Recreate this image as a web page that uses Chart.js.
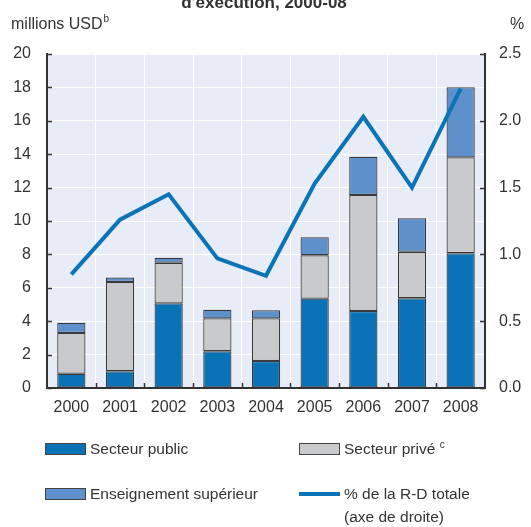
<!DOCTYPE html>
<html>
<head>
<meta charset="utf-8">
<script src="https://cdn.jsdelivr.net/npm/chart.js@4"></script>
<style>
  html, body { margin: 0; padding: 0; background: #fff; }
  #wrap { width: 531px; height: 527px; position: relative; }
</style>
</head>
<body>
<div id="wrap"><canvas id="rdChart" width="531" height="527"></canvas></div>
<script>
// Dépenses de R-D par secteur d'exécution (millions USD) et part dans la R-D totale (%)
const years = ['2000', '2001', '2002', '2003', '2004', '2005', '2006', '2007', '2008'];
const publicSector = [0.85, 1.0, 5.07, 2.2, 1.62, 5.35, 4.61, 5.37, 8.07];
const privateSector = [2.45, 5.35, 2.43, 1.97, 2.55, 2.6, 6.95, 2.79, 5.74];
const higherEducation = [0.6, 0.27, 0.3, 0.52, 0.48, 1.07, 2.29, 2.0, 4.2];
const shareOfTotal = [0.85, 1.26, 1.45, 0.97, 0.84, 1.53, 2.03, 1.5, 2.24];

const FONT = '"Liberation Sans", Arial, sans-serif';
const TEXT = '#333333';
const AXIS = '#333333';

// fond du graphique, titre, libellés d'axes, graduations intérieures et légende
const decorations = {
    id: 'decorations',
    beforeDraw(chart) {
        const { ctx, chartArea: a } = chart;
        ctx.save();
        ctx.fillStyle = '#e8ecf6';
        ctx.fillRect(a.left, a.top, a.right - a.left, a.bottom - a.top);
        ctx.restore();
    },
    afterDraw(chart) {
        const { ctx, chartArea: a, scales } = chart;
        ctx.save();
        ctx.fillStyle = TEXT;
        ctx.textBaseline = 'alphabetic';

        // titre (dernière ligne)
        ctx.font = 'bold 17px ' + FONT;
        ctx.textAlign = 'center';
        ctx.fillText("d'exécution, 2000-08", 264, 8);

        // unités des axes
        ctx.textAlign = 'left';
        ctx.font = '16px ' + FONT;
        ctx.fillText('millions USD', 11, 29);
        let w = ctx.measureText('millions USD').width;
        ctx.font = '10px ' + FONT;
        ctx.fillText('b', 11 + w + 1, 22);
        ctx.font = '16px ' + FONT;
        ctx.fillText('%', 510, 29);

        // graduations vers l'intérieur
        ctx.strokeStyle = AXIS;
        ctx.lineWidth = 1.5;
        ctx.beginPath();
        scales.y.ticks.forEach((t, i) => {
            const yy = Math.round(scales.y.getPixelForTick(i)) + 0.5;
            ctx.moveTo(a.left, yy); ctx.lineTo(a.left + 5, yy);
        });
        scales.y1.ticks.forEach((t, i) => {
            const yy = Math.round(scales.y1.getPixelForTick(i)) + 0.5;
            ctx.moveTo(a.right, yy); ctx.lineTo(a.right - 5, yy);
        });
        const step = (a.right - a.left) / years.length;
        for (let i = 1; i < years.length; i++) {
            const xx = Math.round(a.left + step * i) + 0.5;
            ctx.moveTo(xx, a.bottom); ctx.lineTo(xx, a.bottom - 5);
        }
        ctx.stroke();

        // légende
        const ds = chart.data.datasets;
        const items = [
            { d: ds[1], x: 45, y: 449, label: 'Secteur public' },
            { d: ds[2], x: 299, y: 449, label: 'Secteur privé', sup: 'c' },
            { d: ds[3], x: 45, y: 494, label: 'Enseignement supérieur' },
            { d: ds[0], x: 299, y: 494, label: '% de la R-D totale', line2: '(axe de droite)' }
        ];
        ctx.textBaseline = 'middle';
        items.forEach(it => {
            if (it.d.type === 'line') {
                ctx.strokeStyle = it.d.borderColor;
                ctx.lineWidth = 4;
                ctx.beginPath();
                ctx.moveTo(it.x, it.y); ctx.lineTo(it.x + 41, it.y);
                ctx.stroke();
            } else {
                ctx.fillStyle = it.d.backgroundColor;
                ctx.fillRect(it.x, it.y - 5, 41, 10);
                ctx.strokeStyle = '#444';
                ctx.lineWidth = 1;
                ctx.strokeRect(it.x + 0.5, it.y - 5.5, 40, 11);
            }
            ctx.fillStyle = TEXT;
            ctx.font = '15.5px ' + FONT;
            ctx.fillText(it.label, it.x + 45, it.y + 1);
            if (it.sup) {
                const lw = ctx.measureText(it.label + ' ').width;
                ctx.font = '10px ' + FONT;
                ctx.fillText(it.sup, it.x + 45 + lw, it.y - 4);
            }
            if (it.line2) {
                ctx.fillText(it.line2, it.x + 45, it.y + 24);
            }
        });
        ctx.restore();
    }
};

Chart.defaults.font.family = FONT;
Chart.defaults.font.size = 16;
Chart.defaults.color = TEXT;

const barStyle = {
    type: 'bar',
    borderColor: '#3a3a3a',
    borderWidth: 1.2,
    borderSkipped: false,
    stack: 'rd',
    order: 1
};

new Chart(document.getElementById('rdChart'), {
    data: {
        labels: years,
        datasets: [
            {
                type: 'line',
                label: '% de la R-D totale (axe de droite)',
                data: shareOfTotal,
                yAxisID: 'y1',
                borderColor: '#0b73b8',
                borderWidth: 4,
                pointRadius: 0,
                tension: 0,
                order: 0
            },
            { ...barStyle, label: 'Secteur public', data: publicSector, backgroundColor: '#0a72b6' },
            { ...barStyle, label: 'Secteur privé', data: privateSector, backgroundColor: '#c9cacc' },
            { ...barStyle, label: 'Enseignement supérieur', data: higherEducation, backgroundColor: '#5e90cb' }
        ]
    },
    options: {
        responsive: false,
        animation: false,
        layout: { padding: { top: 54, bottom: 109, left: 0, right: 0 } },
        datasets: { bar: { barPercentage: 0.58, categoryPercentage: 1 } },
        plugins: {
            legend: { display: false },
            tooltip: { enabled: false },
            title: { display: false }
        },
        scales: {
            x: {
                stacked: true,
                offset: true,
                grid: { offset: true, color: '#ffffff', lineWidth: 1, drawTicks: false },
                border: { color: AXIS, width: 2 },
                ticks: { padding: 10 },
                afterFit(s) { s.height = 30; }
            },
            y: {
                stacked: true,
                position: 'left',
                min: 0,
                max: 20,
                grid: { color: '#ffffff', lineWidth: 1, drawTicks: false },
                border: { color: AXIS, width: 2 },
                ticks: { stepSize: 2, padding: 16 },
                afterFit(s) { s.width = 47; }
            },
            y1: {
                position: 'right',
                min: 0,
                max: 2.5,
                grid: { display: false, drawTicks: false },
                border: { color: AXIS, width: 2 },
                ticks: { stepSize: 0.5, padding: 14, callback: v => v.toFixed(1) },
                afterFit(s) { s.width = 46; }
            }
        }
    },
    plugins: [decorations]
});
</script>
</body>
</html>
